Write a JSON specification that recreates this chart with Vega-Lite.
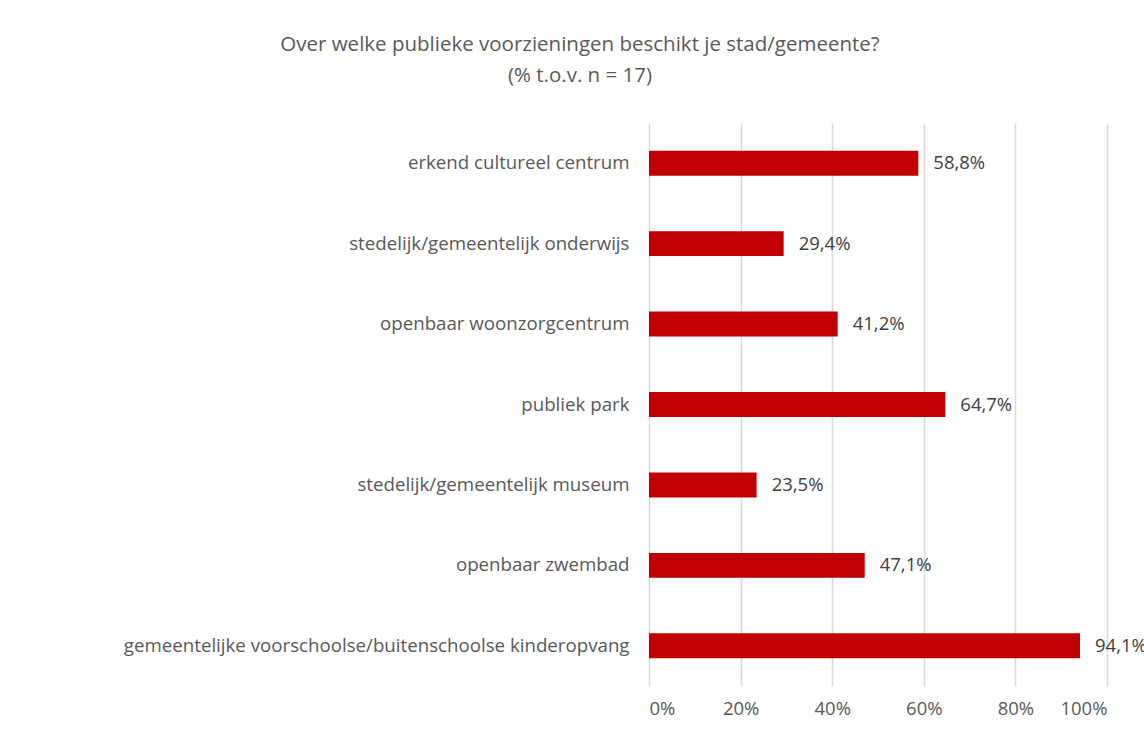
{
  "$schema": "https://vega.github.io/schema/vega-lite/v6.json",
  "width": 458,
  "height": 563,
  "autosize": {"type": "none"},
  "padding": {"left": 649, "top": 123, "right": 37, "bottom": 45},
  "background": "white",
  "title": {
    "text": ["Over welke publieke voorzieningen beschikt je stad/gemeente?", "(% t.o.v. n = 17)"],
    "anchor": "start",
    "frame": "group",
    "align": "center",
    "dx": -69,
    "offset": 37,
    "font": "Open Sans",
    "fontSize": 20.5,
    "fontWeight": "normal",
    "color": "#595959",
    "lineHeight": 31
  },
  "data": {
    "values": [
      {"voorziening": "erkend cultureel centrum", "pct": 58.8, "label": "58,8%"},
      {"voorziening": "stedelijk/gemeentelijk onderwijs", "pct": 29.4, "label": "29,4%"},
      {"voorziening": "openbaar woonzorgcentrum", "pct": 41.2, "label": "41,2%"},
      {"voorziening": "publiek park", "pct": 64.7, "label": "64,7%"},
      {"voorziening": "stedelijk/gemeentelijk museum", "pct": 23.5, "label": "23,5%"},
      {"voorziening": "openbaar zwembad", "pct": 47.1, "label": "47,1%"},
      {"voorziening": "gemeentelijke voorschoolse/buitenschoolse kinderopvang", "pct": 94.1, "label": "94,1%"}
    ]
  },
  "encoding": {
    "y": {
      "field": "voorziening",
      "type": "nominal",
      "sort": null,
      "scale": {"paddingInner": 0.69, "paddingOuter": 0.345},
      "axis": {
        "title": null,
        "domain": false,
        "ticks": false,
        "labelPadding": 20,
        "labelFont": "Open Sans",
        "labelFontSize": 18.7,
        "labelColor": "#595959",
        "labelLimit": 700
      }
    },
    "x": {
      "field": "pct",
      "type": "quantitative",
      "scale": {"domain": [0, 100]},
      "axis": {
        "title": null,
        "values": [0, 20, 40, 60, 80, 100],
        "labelExpr": "datum.value + '%'",
        "domain": false,
        "ticks": false,
        "grid": true,
        "gridColor": "#d9d9d9",
        "gridWidth": 1.5,
        "labelPadding": 13,
        "labelFont": "Open Sans",
        "labelFontSize": 18.5,
        "labelColor": "#595959"
      }
    }
  },
  "layer": [
    {"mark": {"type": "bar", "color": "#C00000"}},
    {
      "mark": {"type": "text", "align": "left", "dx": 15, "font": "Open Sans", "fontSize": 18.5, "color": "#404040"},
      "encoding": {"text": {"field": "label"}}
    }
  ],
  "config": {"view": {"stroke": null}}
}
